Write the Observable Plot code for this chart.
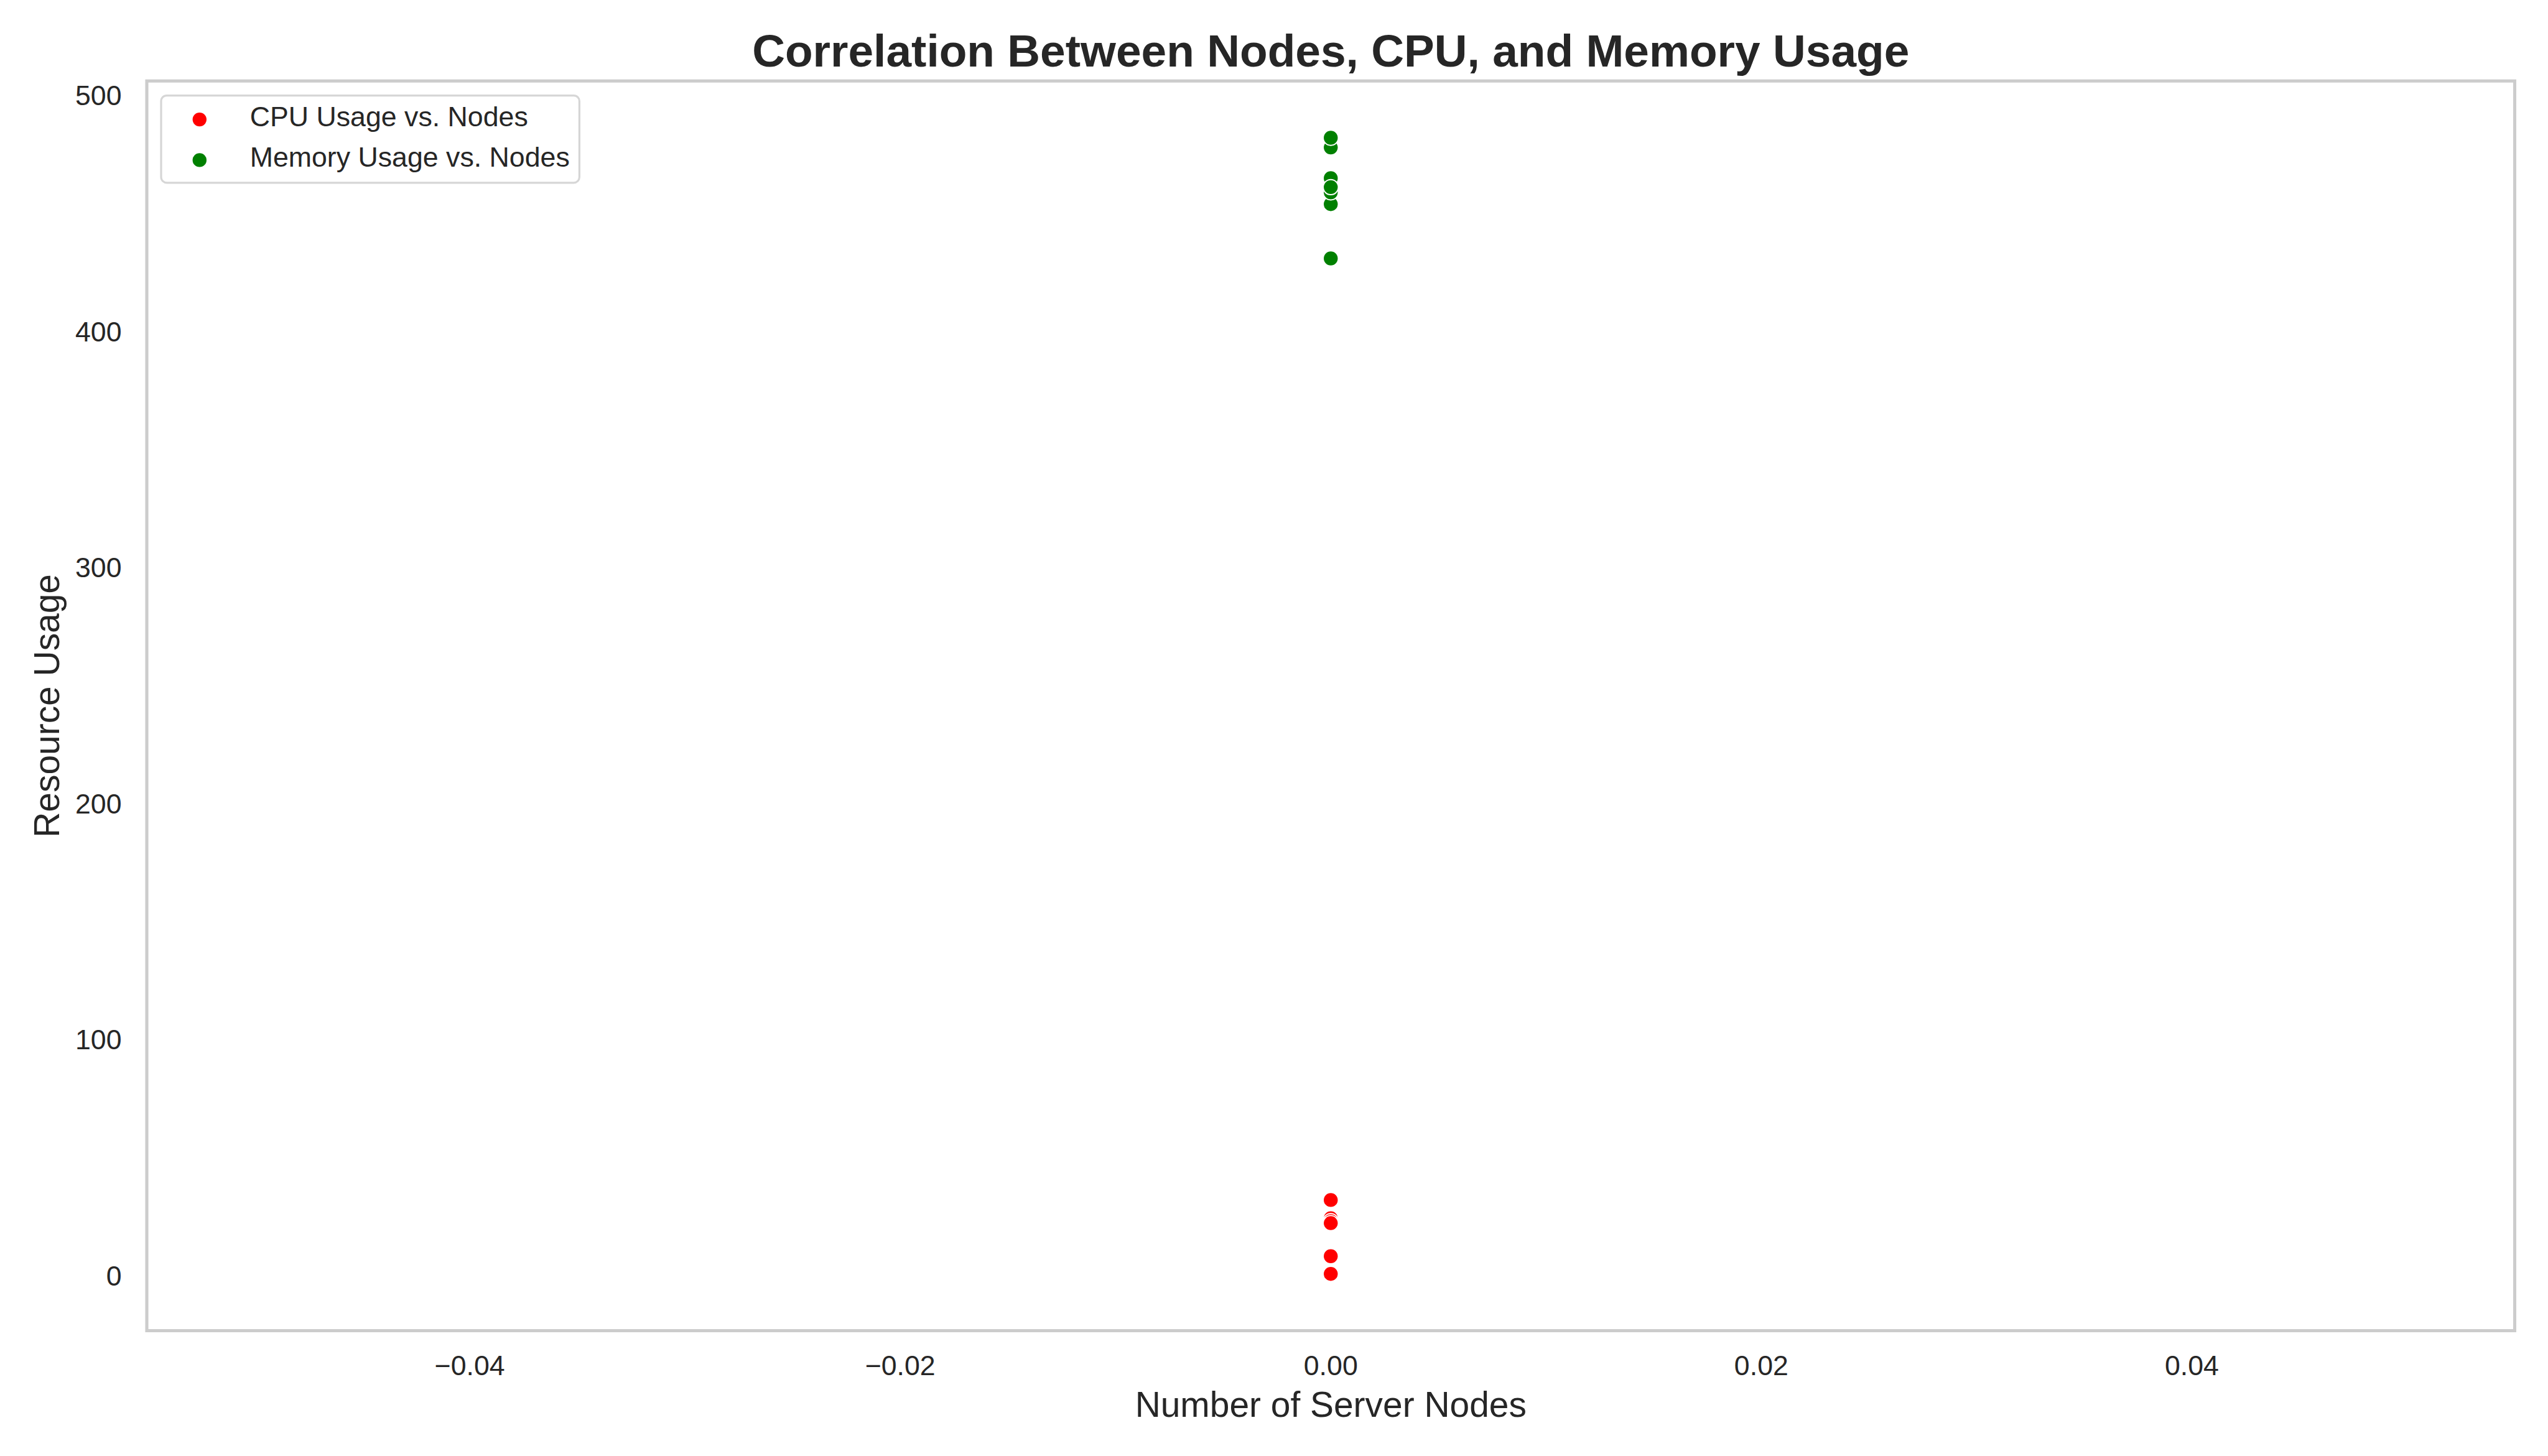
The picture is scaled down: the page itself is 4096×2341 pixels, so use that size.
<!DOCTYPE html>
<html>
<head>
<meta charset="utf-8">
<script src="https://cdn.jsdelivr.net/npm/d3@7"></script>
<script src="https://cdn.jsdelivr.net/npm/@observablehq/plot@0.6"></script>
<style>
  html, body { margin: 0; padding: 0; background: white; }
  #wrap { position: relative; width: 4096px; height: 2341px; overflow: hidden; background: white; }
  #legend { position: absolute; left: 0; top: 0; pointer-events: none; }
</style>
</head>
<body>
<div id="wrap"></div>
<script>
// ---- data ----
const seriesNames = ["CPU Usage vs. Nodes", "Memory Usage vs. Nodes"];
const seriesColors = ["#ff0000", "#008000"];
const cpuNodes = [0, 0, 0, 0, 0, 0];
const cpuUsage = [32.4, 24.7, 23.4, 22.6, 8.6, 1.1];
const memNodes = [0, 0, 0, 0, 0, 0, 0];
const memUsage = [431.3, 478.3, 482.4, 465.3, 454.3, 459.3, 461.5];
const xTicks = [-0.04, -0.02, 0, 0.02, 0.04];
const yTicks = [0, 100, 200, 300, 400, 500];
const xDomain = [-0.055, 0.055];
const titleText = "Correlation Between Nodes, CPU, and Memory Usage";
const xLabel = "Number of Server Nodes";
const yLabel = "Resource Usage";

// ---- build table ----
const rows = [];
cpuNodes.forEach((n, i) => rows.push({nodes: n, usage: cpuUsage[i], series: seriesNames[0]}));
memNodes.forEach((n, i) => rows.push({nodes: n, usage: memUsage[i], series: seriesNames[1]}));

const allY = cpuUsage.concat(memUsage);
const lo = d3.min(allY), hi = d3.max(allY), pad = 0.05 * (hi - lo);
const yDomain = [lo - pad, hi + pad];

const W = 4096, H = 2341;
const mL = 235.5, mR = W - 4042, mT = 129.7, mB = H - 2139;
const font = "'Liberation Sans', Arial, Helvetica, sans-serif";
const ink = "#262626";

const chart = Plot.plot({
  width: W,
  height: H,
  marginLeft: mL,
  marginRight: mR,
  marginTop: mT,
  marginBottom: mB,
  style: {fontFamily: font, fontSize: "44.7px", color: ink, background: "white", overflow: "visible"},
  x: {domain: xDomain, ticks: xTicks, tickFormat: d3.format(".2f"), label: null},
  y: {domain: yDomain, ticks: yTicks, tickFormat: d3.format("d"), label: null},
  color: {domain: seriesNames, range: seriesColors},
  marks: [
    Plot.axisX({ticks: xTicks, tickFormat: d3.format(".2f"), tickSize: 0, tickPadding: 40, fontSize: 44.7, label: null}),
    Plot.axisY({ticks: yTicks, tickFormat: d3.format("d"), tickSize: 0, tickPadding: 40.5, fontSize: 44.7, label: null}),
    Plot.dot(rows, {x: "nodes", y: "usage", fill: "series", r: 12.2, stroke: "white", strokeWidth: 1.95, fillOpacity: 1}),
    Plot.frame({stroke: "#cccccc", strokeWidth: 5.07}),
    Plot.text([titleText], {text: d => d, frameAnchor: "top", textAnchor: "middle", lineAnchor: "bottom", dy: 106.5 - mT, fontSize: 73.1, fontWeight: "bold", fill: ink}),
    Plot.text([xLabel], {text: d => d, frameAnchor: "bottom", textAnchor: "middle", lineAnchor: "bottom", dy: 2277 - (H - mB), fontSize: 56.9, fill: ink}),
    Plot.text([yLabel], {text: d => d, frameAnchor: "left", textAnchor: "middle", lineAnchor: "bottom", rotate: -90, dx: 94.3 - mL, fontSize: 56.9, fill: ink})
  ]
});

const wrap = document.getElementById("wrap");
wrap.appendChild(chart);

// ---- legend ----
const lg = d3.select(wrap).append("svg")
  .attr("id", "legend")
  .attr("width", W).attr("height", H)
  .style("font-family", font);
lg.append("rect")
  .attr("x", 257.4 + 1.6).attr("y", 152 + 1.6)
  .attr("width", 675.6 - 3.2).attr("height", 143.4 - 3.2)
  .attr("rx", 9).attr("ry", 9)
  .attr("fill", "white").attr("fill-opacity", 0.8)
  .attr("stroke", "#d6d6d6").attr("stroke-width", 3.2);
const rowY = [192.1, 257.4];
const baseY = [202.8, 268.1];
seriesNames.forEach((name, i) => {
  lg.append("circle").attr("cx", 320.8).attr("cy", rowY[i]).attr("r", 11.2)
    .attr("fill", seriesColors[i]);
  lg.append("text").attr("x", 401.7).attr("y", baseY[i])
    .attr("font-size", 44.7).attr("fill", ink).text(name);
});
</script>
</body>
</html>
